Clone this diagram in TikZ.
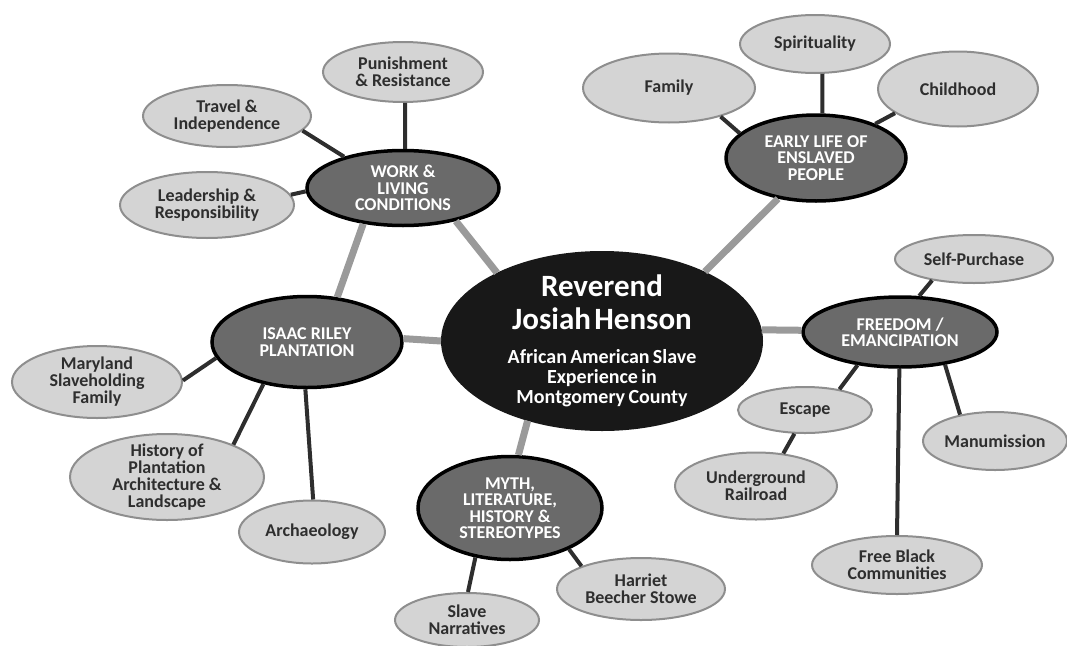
\documentclass[tikz,border=0pt]{standalone}
\usepackage{fontspec}
\setmainfont{Carlito}
\usetikzlibrary{shapes.geometric}

\definecolor{leaffill}{HTML}{D4D4D4}
\definecolor{leafline}{HTML}{8E8E8E}
\definecolor{hubfill}{HTML}{6A6A6A}
\definecolor{corefill}{HTML}{181818}
\definecolor{spokegray}{HTML}{9A9A9A}
\definecolor{tiegray}{HTML}{2E2E2E}

\newcommand\bigname{\fontsize{31}{33}\selectfont}
\newcommand\subname{\fontsize{20}{20}\selectfont}

\tikzset{
  bubble/.style={ellipse, align=center, inner sep=-10pt},
  dims/.style 2 args={minimum width=#1pt, minimum height=#2pt},
  leaf/.style={bubble, draw=leafline, line width=2pt, fill=leaffill,
    text=tiegray, font=\bfseries\fontsize{18}{17}\selectfont},
  hub/.style={bubble, draw=black, line width=3.5pt, fill=hubfill,
    text=white, font=\bfseries\fontsize{18}{16.5}\selectfont},
  core/.style={bubble, text width=220pt, draw=corefill, line width=2pt, fill=corefill,
    text=white, font=\bfseries},
  spoke/.style={draw=spokegray, line width=7pt},
  tie/.style={draw=tiegray, line width=4pt}
}

\begin{document}
\begin{tikzpicture}[x=1pt, y=-1pt]
      \useasboundingbox (0,0) rectangle (1067,645);
      \draw
        (602,341) node[core, dims={320}{178}] (henson){\bigname Reverend\\Josiah Henson\par
          \vspace{14pt}\subname African American Slave\\Experience in\\Montgomery County\par}
        (403,188) node[hub, dims={192}{75}] (work){WORK \&\\LIVING\\CONDITIONS}
        (307,342) node[hub, dims={190}{91}] (riley){ISAAC RILEY\\PLANTATION}
        (816,158) node[hub, dims={180}{86}] (early){EARLY LIFE OF\\ENSLAVED\\PEOPLE}
        (900,332) node[hub, dims={194}{70}] (freedom){FREEDOM /\\EMANCIPATION}
        (510,508) node[hub, dims={184}{103}] (myth){MYTH,\\LITERATURE,\\HISTORY \&\\STEREOTYPES}
        (403,72) node[leaf, dims={160}{60}] (punish){Punishment\\\& Resistance}
        (227,116) node[leaf, dims={168}{62}] (travel){Travel \&\\Independence}
        (207,205) node[leaf, dims={174}{66}] (lead){Leadership \&\\Responsibility}
        (669,88) node[leaf, dims={172}{69}] (family){Family}
        (815,44) node[leaf, dims={150}{58}] (spirit){Spirituality}
        (958,89) node[leaf, dims={160}{75}] (child){Childhood}
        (974,259) node[leaf, dims={158}{48}] (selfbuy){Self-Purchase}
        (805,410) node[leaf, dims={134}{46}] (escape){Escape}
        (756,486) node[leaf, dims={162}{67}] (railroad){Underground\\Railroad}
        (995,441) node[leaf, dims={144}{58}] (manumit){Manumission}
        (897,565) node[leaf, dims={170}{58}] (freeblack){Free Black\\Communities}
        (97,382) node[leaf, dims={170}{72}] (maryland){Maryland\\Slaveholding\\Family}
        (167,477) node[leaf, dims={194}{86}] (history){History of\\Plantation\\Architecture \&\\Landscape}
        (312,532) node[leaf, dims={146}{63}] (archaeo){Archaeology}
        (467,620) node[leaf, dims={144}{54}] (narr){Slave\\Narratives}
        (641,589) node[leaf, dims={168}{62}] (stowe){Harriet\\Beecher Stowe};
      \begin{scope}[spoke]
        \draw (henson.147) to (work.328);
        \draw (henson.34) to (early.227);
        \draw (henson.4) to (freedom.179);
        \draw (henson.227) to (myth.81);
        \draw (henson.180) to (riley.2);
        \draw (work.222) to (riley.56);
      \end{scope}
      \begin{scope}[tie]
        \draw (work.87) to (punish.274);
        \draw (work.152) to (travel.349);
        \draw (work.182) to (lead.7);
        \draw (early.162) to (family.331);
        \draw (early.82) to (spirit.284);
        \draw (early.30) to (child.201);
        \draw (freedom.62) to (selfbuy.207);
        \draw (freedom.218) to (escape.31);
        \draw (escape.246) to (railroad.50);
        \draw (freedom.269) to (freeblack.90);
        \draw (freedom.324) to (manumit.143);
        \draw (myth.235) to (narr.88);
        \draw (myth.325) to (stowe.159);
        \draw (riley.190) to (maryland.1);
        \draw (riley.224) to (history.26);
        \draw (riley.268) to (archaeo.88);
      \end{scope}
    \end{tikzpicture}
\end{document}
